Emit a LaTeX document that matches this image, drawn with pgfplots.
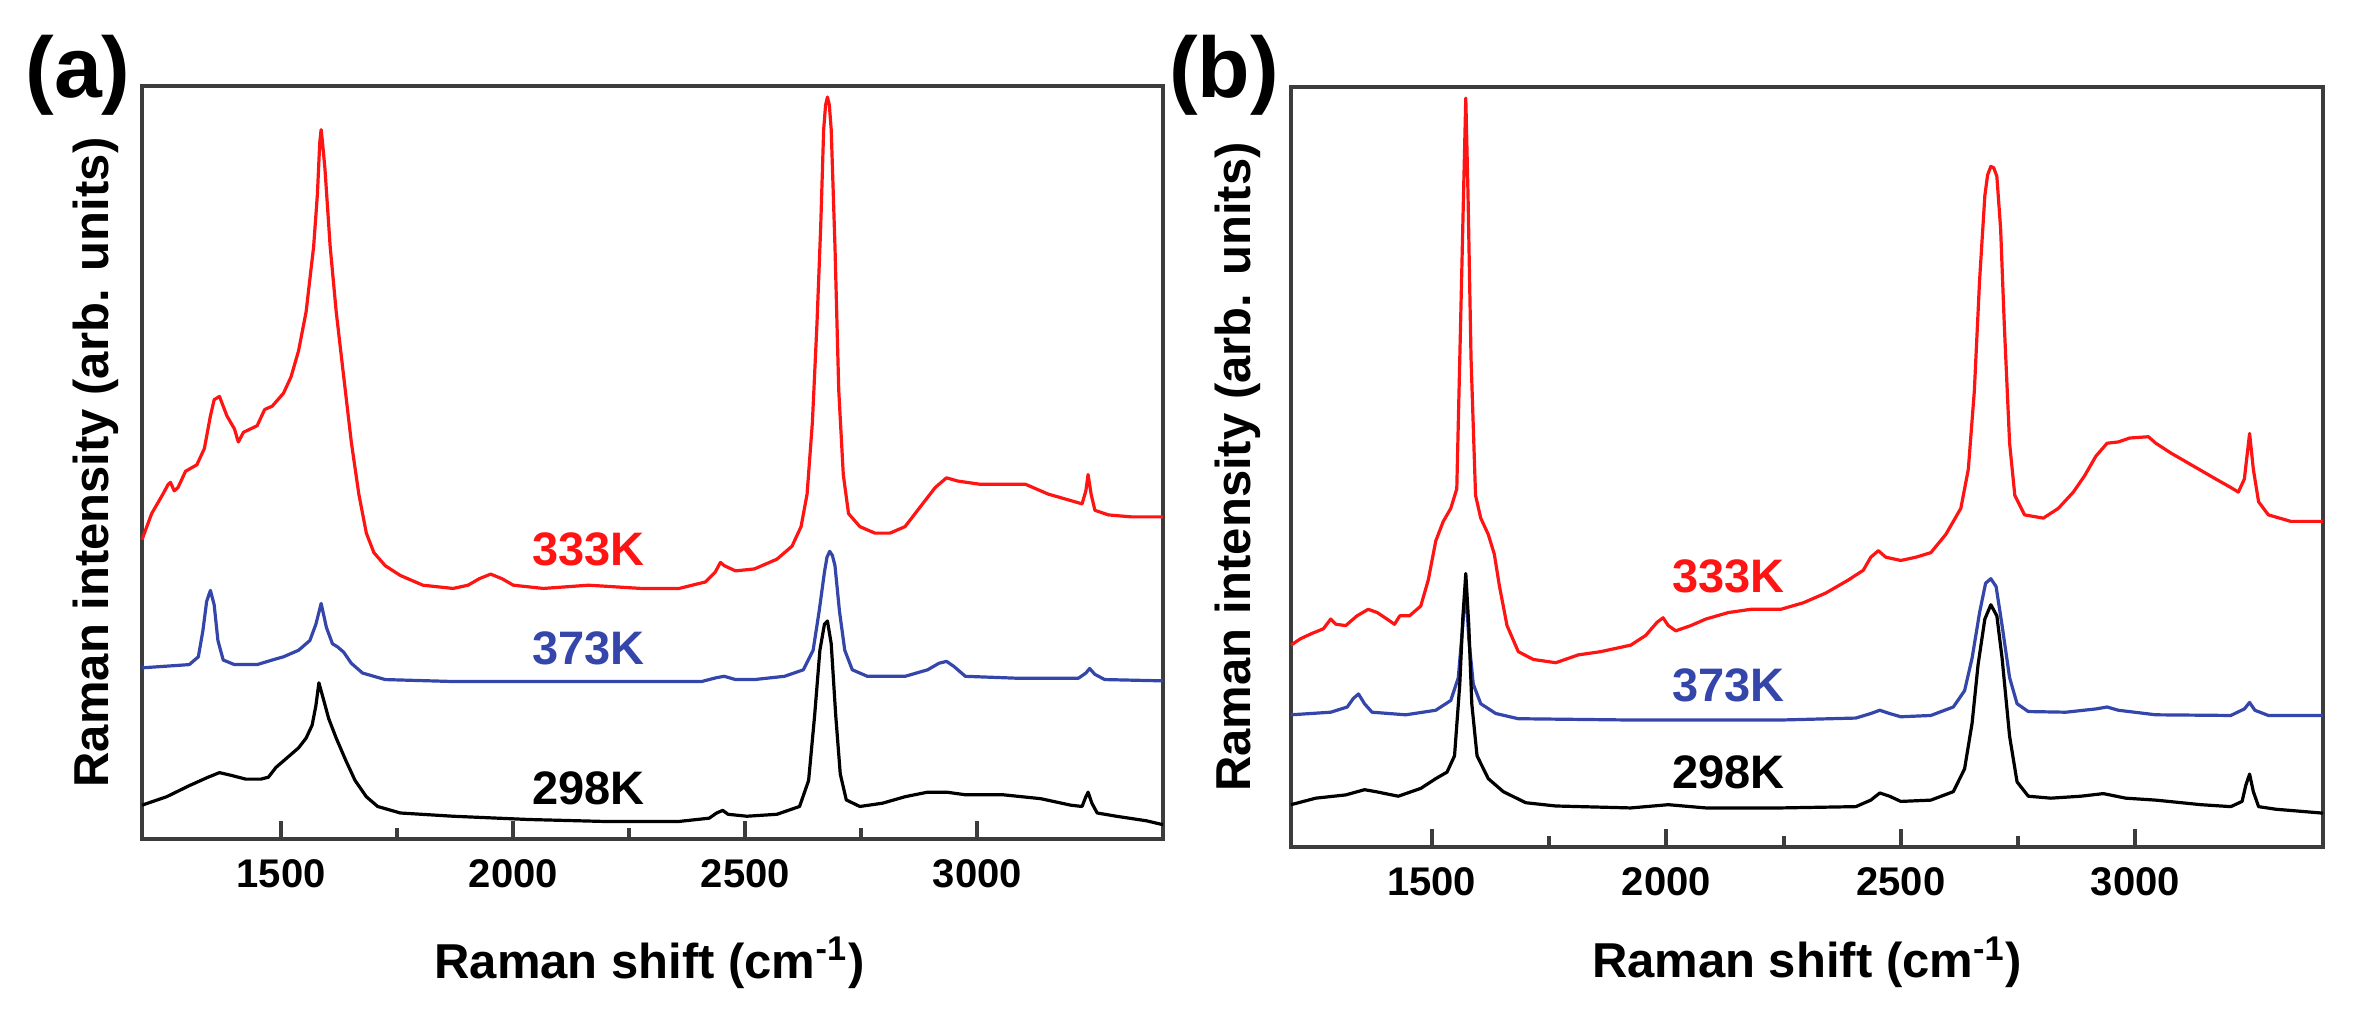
\documentclass[border=0pt]{standalone}
\usepackage{fontspec}
\setmainfont{Liberation Sans}
\usepackage{pgfplots}
\pgfplotsset{compat=1.18}
\definecolor{cred}{RGB}{255,20,20}
\definecolor{cblue}{RGB}{52,70,170}
\definecolor{axgray}{RGB}{60,60,60}
\tikzset{
  tlab/.style={font=\fontsize{11.75}{14}\selectfont\bfseries},
  curve/.style={line width=0.8pt, line join=round},
}
\pgfplotsset{
  ramanax/.style={
    scale only axis,
    xmin=1200, xmax=3400, ymin=0,
    axis line style={axgray, line width=1pt},
    xtick={1500,2000,2500,3000},
    minor x tick num=1,
    ytick=\empty,
    tick align=inside,
    xtick pos=bottom,
    major tick length=4.4pt,
    minor tick length=2.7pt,
    every tick/.style={axgray, line width=1pt},
    /pgf/number format/assume math mode=true,
    /pgf/number format/1000 sep={},
    xticklabel style={font=\fontsize{10}{12}\selectfont\bfseries, yshift=-1.6pt},
    label style={font=\fontsize{12.25}{14}\selectfont\bfseries},
    xlabel={Raman shift (cm\textsuperscript{-1})},
    ylabel={Raman intensity (arb. units)},
    clip=false,
  },
}
\begin{document}
\begin{tikzpicture}
\path[use as bounding box] (0,0) rectangle (589.25pt,255.25pt);
\node[font=\fontsize{21.5}{24}\selectfont\bfseries] at (19.5pt,236.5pt) {(a)};
\node[font=\fontsize{21.5}{24}\selectfont\bfseries] at (306pt,236.5pt) {(b)};
% ---------------- panel (a)
\begin{axis}[ramanax,
  at={(35.5pt,45.5pt)}, anchor=south west,
  width=255.25pt, height=188.25pt, ymax=1157,
  xlabel style={at={(axis description cs:0.497,-0.185)}, anchor=base},
  ylabel style={at={(axis description cs:-0.0333,0.5)}, anchor=base},
]
\addplot[curve, cred] coordinates {
(1200,460) (1220.8,500) (1245.1,530) (1256.5,545) (1261.4,548) (1269.5,535) (1277.6,540)
(1293.8,565) (1318.2,575) (1334.4,600) (1347.4,650) (1355.5,675) (1366.9,680) (1383.1,650)
(1399.3,630) (1407.5,610) (1418.8,625) (1448.1,635) (1464.3,660) (1480.5,665) (1504.9,685)
(1521.1,710) (1537.3,750) (1553.6,810) (1569.8,910) (1577.9,990) (1583,1070) (1586.0,1090)
(1589,1070) (1594.2,1030)
(1605.5,910) (1618.5,810) (1634.7,710) (1651.0,610) (1667.2,530) (1683.4,470) (1699.7,440)
(1724.0,420) (1756.5,405) (1805.2,390) (1870.1,385) (1902.6,390) (1926.9,400) (1951.3,407)
(1975.7,400) (2000,390) (2064.9,385) (2162.3,390) (2276,385) (2357.2,385) (2414,395)
(2435.1,410) (2446.4,425) (2454.6,420) (2478.9,412) (2519.5,415) (2568.2,430) (2600.7,450)
(2620.1,480) (2633.1,530) (2644.5,640) (2654.3,790) (2662.4,940) (2668.8,1090) (2673,1128)
(2677,1140) (2681,1128)
(2685.1,1090) (2693.2,910) (2701.3,690) (2711.1,560) (2722.4,500) (2746.8,480) (2779.2,470)
(2811.7,470) (2844.2,480) (2876.6,510) (2909.1,540) (2933.5,555) (2957.8,550) (3006.5,545)
(3055.2,545) (3103.9,545) (3152.6,530) (3201.3,520) (3225.6,515) (3233.8,535) (3238.6,560)
(3245.1,530) (3253.3,505) (3282.5,498) (3331.2,495) (3400,495)
};
\addplot[curve, cblue] coordinates {
(1200,263) (1301.9,268) (1321.4,280) (1331.2,320) (1339.3,365) (1347.4,382) (1355.5,360)
(1363.6,305) (1375.0,275) (1399.3,268) (1448.1,268) (1480.5,275) (1504.9,280) (1537.3,290)
(1561.7,305) (1574.7,330) (1586.0,362) (1597.4,325) (1610.4,300) (1621.8,295) (1634.7,287)
(1651.0,270) (1675.3,255) (1724.0,245) (1870.1,242) (2194.8,242) (2405.9,242) (2438.3,248)
(2454.6,250) (2478.9,245) (2519.5,245) (2584.4,250) (2625.0,260) (2646.1,290) (2659.1,350)
(2670.5,410) (2676,433) (2681.8,442) (2687.5,436) (2693.2,420) (2702.9,350) (2714.3,290)
(2730.5,260) (2763.0,250)
(2844.2,250) (2892.9,260) (2917.2,270) (2933.5,273) (2949.8,265) (2974.1,250) (3087.7,247)
(3217.6,247) (3233.8,255) (3241.9,262) (3253.3,253) (3274.4,245) (3400,243)
};
\addplot[curve, black] coordinates {
(1200,52) (1253.2,65) (1301.9,82) (1342.5,95) (1366.9,102) (1391.2,98) (1423.7,92)
(1456.2,92) (1472.4,95) (1488.6,110) (1513.0,125) (1537.3,140) (1553.6,155) (1566.6,175)
(1574.7,205) (1581.2,240) (1590.9,215) (1602.3,185) (1618.5,155) (1639.6,120) (1659.1,90)
(1683.4,65) (1707.8,50) (1756.5,40) (1870.1,35) (2032.5,30) (2194.8,27) (2357.2,27)
(2422.1,32) (2438.3,40) (2451.3,44) (2462.7,38) (2503.3,35) (2568.2,38) (2616.9,50)
(2636.4,90) (2649.4,190) (2660.7,290) (2670.5,330) (2677.0,335) (2685.1,300) (2694.8,190)
(2704.6,100) (2717.6,60) (2746.8,50) (2795.5,55) (2844.2,65) (2892.9,72) (2933.5,72)
(2974.1,68) (3055.2,68) (3136.4,62) (3201.3,52) (3225.6,50) (3233.8,65) (3238.6,72)
(3246.8,55) (3258.2,40) (3299.3,35) (3364.3,28) (3400,22)
};
\node[tlab, text=cred] at (axis cs:2162,445) {333K};
\node[tlab, text=cblue] at (axis cs:2162,293) {373K};
\node[tlab, text=black] at (axis cs:2162,78) {298K};
\end{axis}
% ---------------- panel (b)
\begin{axis}[ramanax,
  at={(322.75pt,43.5pt)}, anchor=south west,
  width=258pt, height=190pt, ymax=1167,
  xlabel style={at={(axis description cs:0.5,-0.172)}, anchor=base},
  ylabel style={at={(axis description cs:-0.0397,0.5)}, anchor=base},
]
\addplot[curve, cred] coordinates {
(1200,310) (1220.8,320) (1244.8,328) (1268.8,335) (1284.7,350) (1295.9,342) (1316.7,340)
(1340.7,355) (1364.7,365) (1383.9,360) (1404.7,350) (1420.7,342) (1431.9,355) (1452.6,355)
(1476.6,370) (1492.6,410) (1508.6,470) (1524.6,500) (1540.6,520) (1553.4,550) (1561.4,800)
(1567.7,1000) (1572.6,1150) (1577.4,1000) (1583.8,750) (1593.4,540) (1604.5,505) (1620.5,480)
(1633.3,450) (1644.5,400) (1660.5,340) (1684.5,300) (1716.5,288) (1764.4,283) (1812.4,295)
(1860.4,300) (1924.3,310) (1956.3,325) (1980.3,345) (1993.1,352) (2004.3,340) (2020.3,332)
(2052.3,340) (2084.2,350) (2132.2,360) (2180.2,365) (2244.1,365) (2292.1,375) (2340.1,390)
(2388.1,410) (2420.0,425) (2436.0,445) (2452.0,455) (2468.0,445) (2500.0,440) (2532.0,445)
(2564.0,452) (2595.9,480) (2627.9,520) (2643.9,580) (2656.7,700) (2667.9,870) (2679.1,1000)
(2685,1032) (2691.9,1045) (2698,1043) (2704.7,1030) (2712.7,950) (2720.7,800) (2731.9,620)
(2743.0,540) (2763.8,510)
(2803.8,505) (2835.8,520) (2867.8,545) (2891.7,570) (2915.7,600) (2939.7,620) (2963.7,622)
(2987.7,628) (3027.7,630) (3043.6,620) (3075.6,605) (3123.6,585) (3171.6,565) (3203.5,552)
(3219.5,545) (3232.3,565)
(3243.5,635) (3251.5,580) (3262.7,530) (3283.5,510) (3331.5,500) (3400,500)
};
\addplot[curve, cblue] coordinates {
(1200,203) (1284.7,207) (1319.9,215) (1332.7,228) (1343.9,235) (1356.7,220) (1372.7,207)
(1444.6,203) (1508.6,210) (1540.6,225) (1556.6,260) (1566.1,340) (1572.6,400) (1579.0,320)
(1588.6,250) (1604.5,220) (1636.5,205) (1684.5,197) (1924.3,195) (2244.1,195) (2404.0,198)
(2436.0,205) (2455.2,210) (2476.0,205) (2500.0,200) (2564.0,202) (2611.9,215) (2635.9,240)
(2651.9,290) (2667.9,360) (2680.7,405) (2691.9,412) (2703.1,400) (2715.9,340) (2731.9,260)
(2747.8,220) (2771.8,208) (2851.8,207) (2915.7,212) (2939.7,215) (2963.7,210) (3043.6,203)
(3203.5,202) (3232.3,212) (3243.5,222) (3254.7,210) (3283.5,202) (3400,202)
};
\addplot[curve, black] coordinates {
(1200,65) (1252.8,75) (1316.7,80) (1356.7,88) (1380.7,85) (1428.7,78) (1476.6,90)
(1508.6,105) (1532.6,115) (1548.6,140) (1559.8,250) (1566.1,350) (1572.6,420) (1579.0,340)
(1585.4,220) (1596.6,140) (1620.5,105) (1652.5,85) (1700.5,68) (1764.4,63) (1924.3,60)
(2004.3,65) (2084.2,60) (2244.1,60) (2404.0,62) (2436.0,72) (2455.2,83) (2476.0,78)
(2500.0,70) (2564.0,72) (2611.9,85) (2635.9,120) (2651.9,190) (2664.7,280) (2679.1,350)
(2691.9,372) (2704.7,355) (2715.9,290) (2731.9,170) (2747.8,100) (2771.8,78) (2819.8,75)
(2883.7,78) (2931.7,82) (2979.7,75) (3043.6,72) (3139.6,65) (3203.5,62) (3227.5,70)
(3235.5,95) (3243.5,112) (3251.5,85) (3262.7,62) (3299.5,58) (3400,52)
};
\node[tlab, text=cred] at (axis cs:2132,415) {333K};
\node[tlab, text=cblue] at (axis cs:2132,248) {373K};
\node[tlab, text=black] at (axis cs:2132,115) {298K};
\end{axis}
\end{tikzpicture}
\end{document}
